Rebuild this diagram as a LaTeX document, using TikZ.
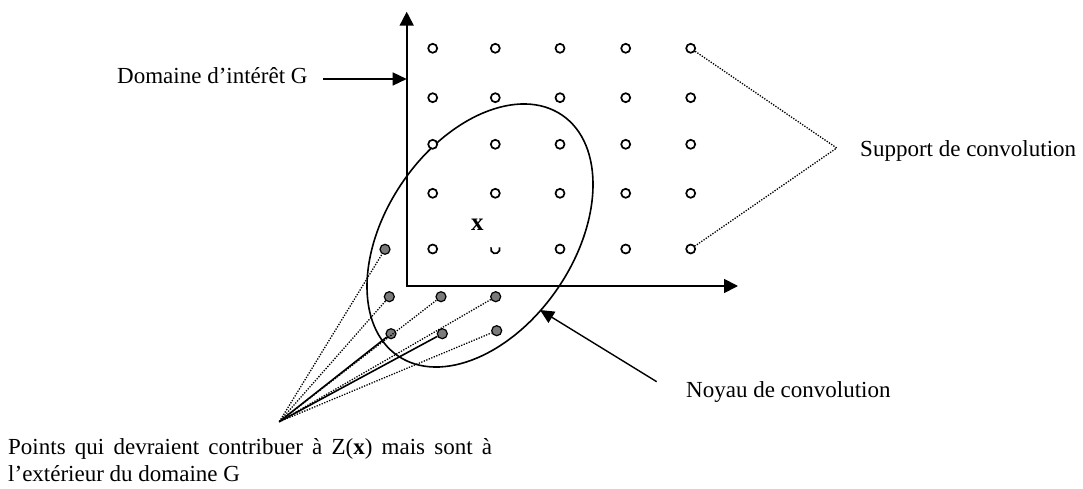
\documentclass[tikz,border=0pt]{standalone}
\usepackage{fontspec}
\setmainfont{Liberation Serif}
\usetikzlibrary{arrows.meta}
\definecolor{dotgray}{HTML}{7A7A7A}
\begin{document}
\begin{tikzpicture}[x=1pt,y=1pt,
  lbl/.style={font=\fontsize{23}{27}\selectfont,inner sep=0pt},
  opencirc/.style={circle,draw,fill=white,line width=1.7pt,minimum size=9pt,inner sep=0pt},
  graydot/.style={circle,draw,fill=dotgray,line width=1.2pt,minimum size=10pt,inner sep=0pt},
  axis/.style={line width=1.8pt,line join=miter,{Triangle[length=14pt,width=14pt]}-{Triangle[length=14pt,width=14pt]}},
  pointer/.style={line width=1.4pt,-{Triangle[length=14pt,width=13pt]}},
  dotline/.style={line width=1.3pt,dash pattern=on 1.3pt off 1.4pt},
  fanline/.style={line width=1.6pt}]
\useasboundingbox (0,0) rectangle (1083,488);

% axes
\coordinate (O) at (406.7,202);
\coordinate (ytip) at (406.7,476.3);
\coordinate (xtip) at (738,202);
\draw[axis] (ytip) -- (O) -- (xtip);

% kernel ellipse
\draw[line width=1.6pt,rotate around={55.7:(480,252.5)}] (480,252.5) ellipse [x radius=145.7, y radius=94];

% grid of open circles
\foreach \c/\X in {1/432.7,2/495.3,3/560,4/625.7,5/690.7}{
  \foreach \r/\Y in {1/439.7,2/390.3,3/343.7,4/294.7}{
    \node[opencirc] (c\r\c) at (\X,\Y) {};
  }
}
\node[opencirc] (c51) at (432.7,239) {};
\node[opencirc] (c53) at (560,239) {};
\node[opencirc] (c54) at (625.7,239) {};
\node[opencirc] (c55) at (690.7,239) {};
\draw[line width=1.7pt] (495.3,239) ++(160:4.5) arc[start angle=160,end angle=380,radius=4.5];

% x label
\node[lbl,font=\fontsize{25}{27}\selectfont\bfseries] (xlab) at (477.3,263) {x};

% gray points outside the domain
\node[graydot] (g1) at (385,238.7) {};
\node[graydot] (g2) at (389.3,191.3) {};
\node[graydot] (g3) at (441,191.3) {};
\node[graydot] (g4) at (495.7,191.3) {};
\node[graydot] (g5) at (391,154.3) {};
\node[graydot] (g6) at (442.3,154.3) {};
\node[graydot] (g7) at (496.7,157.3) {};

% fan
\coordinate (F) at (279.3,66.3);
\foreach \g in {g1,g2,g3,g4,g7}{\draw[dotline] (F) -- (\g);}
\draw[fanline] (F) -- (g5);
\draw[fanline] (F) -- (g6);

% Domaine label
\node[lbl,anchor=west] (dom) at (117,412) {Domaine d’intérêt G};
\coordinate (domfrom) at (323,409);
\coordinate (domtip) at (406.7,409);
\draw[pointer] (domfrom) -- (domtip);

% Support label
\node[lbl,anchor=west] (sup) at (860,337) {Support de convolution};
\coordinate (sapex) at (836.7,340);
\draw[dotline] (c15) -- (sapex) -- (c55);

% Noyau label
\node[lbl,anchor=west] (noy) at (686,96) {Noyau de convolution};
\coordinate (noytail) at (656.7,106.3);
\coordinate (noytip) at (540,178);
\draw[pointer] (noytail) -- (noytip);

% Points label
\node[lbl,anchor=north west,text width=484pt,align=justify] (pts) at (8,50)
  {Points qui devraient contribuer à Z(\textbf{x}) mais sont à\linebreak l’extérieur du domaine G};
\end{tikzpicture}
\end{document}
